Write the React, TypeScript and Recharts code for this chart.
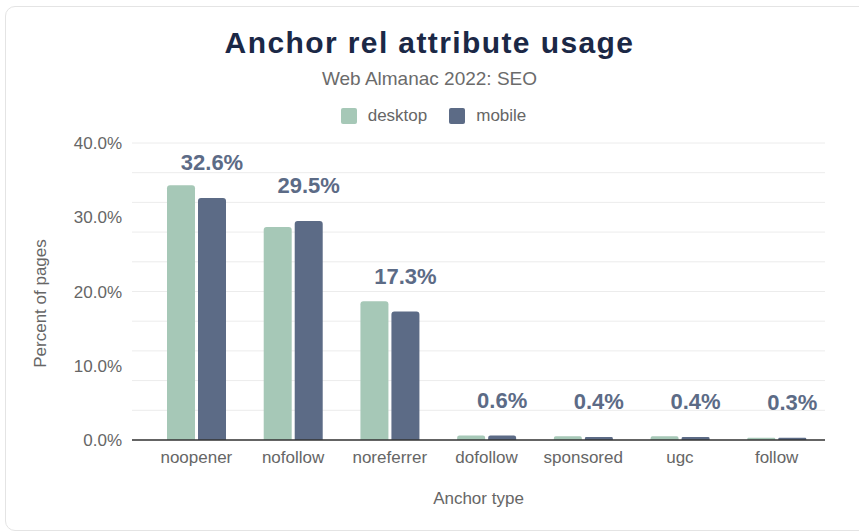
import React from 'react';
import {
    BarChart,
    Bar,
    XAxis,
    YAxis,
    CartesianGrid,
    LabelList,
    Label,
} from 'recharts';

// values (percent of pages)
const anchorTypes = ['noopener', 'nofollow', 'noreferrer', 'dofollow', 'sponsored', 'ugc', 'follow'];
const desktopValues = [34.3, 28.7, 18.7, 0.6, 0.5, 0.5, 0.3];
const mobileValues = [32.6, 29.5, 17.3, 0.6, 0.4, 0.4, 0.3];
const yTicks = [0, 10, 20, 30, 40];
const gridValues = [0, 2, 4, 6, 8, 10, 12, 14, 16, 18, 20, 22, 24, 26, 28, 30, 32, 34, 36, 38, 40];

const seriesNames = ['desktop', 'mobile'];
const seriesColors = ['#a6c8b7', '#5c6b86'];

const data = anchorTypes.map((name, i) => ({
    name,
    desktop: desktopValues[i],
    mobile: mobileValues[i],
}));

const font = '"Liberation Sans", Arial, sans-serif';

export default function App() {
    return (
        <div style={{ position: 'absolute', left: 0, top: 0, width: 859, height: 532, background: '#fff', fontFamily: font, overflow: 'hidden' }}>
            {/* card border */}
            <div style={{ position: 'absolute', left: 5, top: 6, width: 870, height: 523, border: '1px solid #e4e4e4', borderRadius: 10 }} />

            <div style={{ position: 'absolute', top: 26, width: 859, textAlign: 'center', fontSize: 30, fontWeight: 900, color: '#1b2846', letterSpacing: 1.4 }}>
                Anchor rel attribute usage
            </div>
            <div style={{ position: 'absolute', top: 68, width: 859, textAlign: 'center', fontSize: 19, color: '#6b6b6b' }}>
                Web Almanac 2022: SEO
            </div>

            {/* legend */}
            <div style={{ position: 'absolute', top: 106, left: 4, width: 859, display: 'flex', justifyContent: 'center', fontSize: 17, color: '#666' }}>
                {seriesNames.map((s, i) => (
                    <div key={s} style={{ display: 'flex', alignItems: 'center', marginLeft: i ? 22 : 0 }}>
                        <span style={{ display: 'inline-block', width: 16, height: 16, background: seriesColors[i], borderRadius: 2, marginRight: 11 }} />
                        {s}
                    </div>
                ))}
            </div>

            <div style={{ position: 'absolute', left: 0, top: 0 }}>
                <BarChart
                    width={859}
                    height={532}
                    data={data}
                    margin={{ top: 143, right: 34, left: 52, bottom: 62 }}
                    barSize={28}
                    barGap={3}
                >
                    <CartesianGrid horizontal vertical={false} stroke="#ececec" horizontalValues={gridValues} />
                    <XAxis
                        dataKey="name"
                        padding={{ left: 16, right: 0 }}
                        axisLine={{ stroke: '#333', strokeWidth: 1.5 }}
                        tickLine={false}
                        tick={{ fill: '#666', fontSize: 17, fontFamily: font }}
                        dy={3}
                    >
                        <Label value="Anchor type" position="bottom" offset={22} style={{ fill: '#666', fontSize: 17, fontFamily: font }} />
                    </XAxis>
                    <YAxis
                        domain={[0, 40]}
                        ticks={yTicks}
                        width={80}
                        axisLine={false}
                        tickLine={false}
                        tickFormatter={(v: number) => v.toFixed(1) + '%'}
                        tick={{ fill: '#666', fontSize: 17, fontFamily: font }}
                        tickMargin={4}
                    >
                        <Label value="Percent of pages" angle={-90} position="insideLeft" offset={-12} dy={12} style={{ fill: '#666', fontSize: 17, fontFamily: font, textAnchor: 'middle' }} />
                    </YAxis>
                    <Bar dataKey="desktop" fill={seriesColors[0]} radius={[3, 3, 0, 0]} isAnimationActive={false} />
                    <Bar dataKey="mobile" fill={seriesColors[1]} radius={[3, 3, 0, 0]} isAnimationActive={false}>
                        <LabelList
                            dataKey="mobile"
                            position="top"
                            offset={28}
                            formatter={(v: number) => v.toFixed(1) + '%'}
                            style={{ fill: '#5c6b86', fontSize: 22, fontWeight: 'bold', fontFamily: font }}
                        />
                    </Bar>
                </BarChart>
            </div>
        </div>
    );
}
